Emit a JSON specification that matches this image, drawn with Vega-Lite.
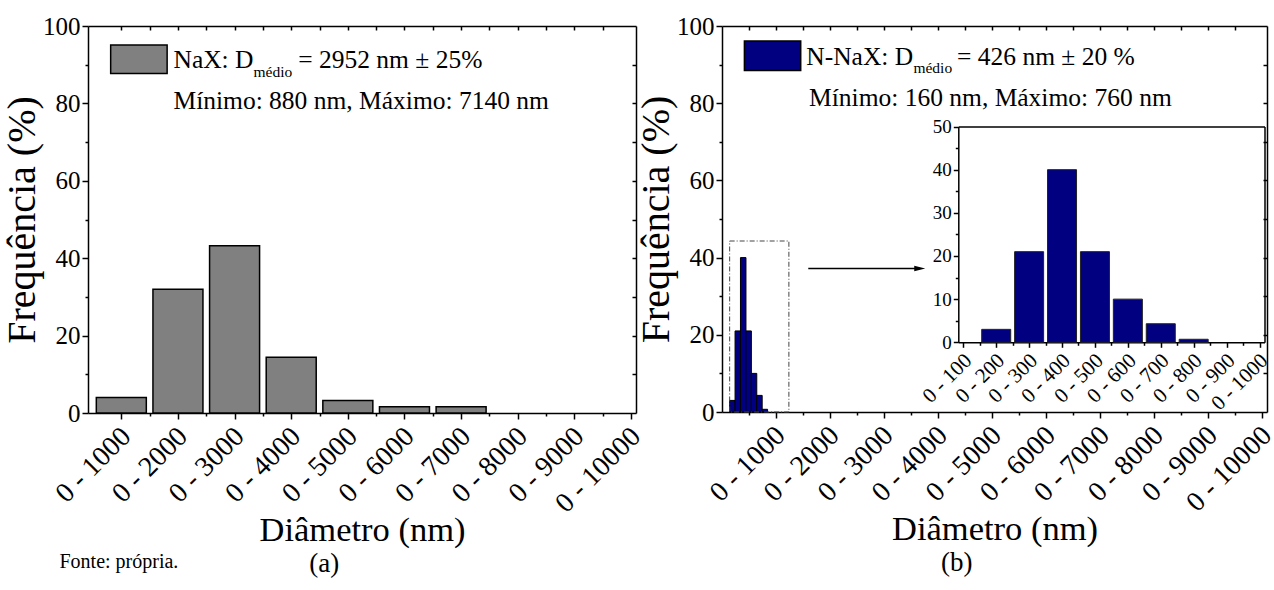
{
  "$schema": "https://vega.github.io/schema/vega-lite/v6.json",
  "background": "white",
  "padding": {"left": 2, "top": 14, "right": 0, "bottom": 0},
  "spacing": 86,
  "bounds": "flush",
  "title": {"text": "Fonte: própria.", "orient": "bottom", "anchor": "start", "frame": "bounds", "fontSize": 20, "offset": -25, "dx": 57},
  "datasets": {
    "nax": [
      {"diametro": 1000, "frequencia": 4.0},
      {"diametro": 2000, "frequencia": 32.0},
      {"diametro": 3000, "frequencia": 43.2},
      {"diametro": 4000, "frequencia": 14.4},
      {"diametro": 5000, "frequencia": 3.2},
      {"diametro": 6000, "frequencia": 1.6},
      {"diametro": 7000, "frequencia": 1.6},
      {"diametro": 8000, "frequencia": 0},
      {"diametro": 9000, "frequencia": 0},
      {"diametro": 10000, "frequencia": 0}
    ],
    "nnax": [
      {"diametro": 100, "frequencia": 0},
      {"diametro": 200, "frequencia": 3.0},
      {"diametro": 300, "frequencia": 21.0},
      {"diametro": 400, "frequencia": 40.0},
      {"diametro": 500, "frequencia": 21.0},
      {"diametro": 600, "frequencia": 10.0},
      {"diametro": 700, "frequencia": 4.3},
      {"diametro": 800, "frequencia": 0.7},
      {"diametro": 900, "frequencia": 0},
      {"diametro": 1000, "frequencia": 0}
    ],
    "legenda_a": [{"x": 812, "x2": 1809, "y": 87.7, "y2": 95.1}],
    "textos_a": [
      {"texto": "NaX: D", "x": 1921, "y": 89.1},
      {"texto": "= 2952 nm ± 25%", "x": 4123, "y": 89.1},
      {"texto": "Mínimo: 880 nm, Máximo: 7140 nm", "x": 1921, "y": 78.5}
    ],
    "sub_a": [{"texto": "médio", "x": 3334, "y": 86.8}],
    "legenda_b": [{"x": 422, "x2": 1464, "y": 88.5, "y2": 96.1}],
    "textos_b": [
      {"texto": "N-NaX: D", "x": 1567, "y": 89.9},
      {"texto": "= 426 nm ± 20 %", "x": 4356, "y": 89.9},
      {"texto": "Mínimo: 160 nm, Máximo: 760 nm", "x": 1618, "y": 79.4}
    ],
    "sub_b": [{"texto": "médio", "x": 3549, "y": 87.9}],
    "caixa_b": [{"x": 149, "x2": 1245, "y": 0, "y2": 44.3}],
    "seta_b": [{"x": 1604, "x2": 3667, "y": 37.2}]
  },
  "hconcat": [
    {
      "width": 548,
      "height": 387,
      "title": {"text": "(a)", "orient": "bottom", "anchor": "middle", "frame": "bounds", "fontSize": 27, "offset": 4},
      "layer": [
        {
          "data": {"name": "nax"},
          "transform": [{"filter": "datum.frequencia > 0"}],
          "mark": {"type": "bar", "width": 50, "fill": "#808080", "stroke": "black", "strokeWidth": 1.5},
          "encoding": {
            "x": {"field": "diametro", "type": "quantitative", "scale": {"domain": [500, 10000], "nice": false, "zero": false},
              "axis": {"orient": "bottom", "values": [1000, 2000, 3000, 4000, 5000, 6000, 7000, 8000, 9000, 10000], "labelExpr": "'0 - ' + datum.value", "labelAngle": -45, "labelFontSize": 28, "labelPadding": 3, "labelOffset": -5, "tickSize": 6, "title": "Diâmetro (nm)", "titleFontSize": 34.5, "titlePadding": -4}},
            "y": {"field": "frequencia", "type": "quantitative", "scale": {"domain": [0, 100], "nice": false},
              "axis": {"orient": "left", "values": [0, 20, 40, 60, 80, 100], "labelFontSize": 25, "labelPadding": 2, "tickSize": 6, "title": "Frequência (%)", "titleFontSize": 40, "titlePadding": 0}}
          }
        },
        {
          "data": {"name": "nax"},
          "mark": {"type": "point", "opacity": 0},
          "encoding": {
            "x": {"field": "diametro", "type": "quantitative", "scale": {"domain": [500, 10000], "nice": false, "zero": false},
              "axis": {"orient": "bottom", "values": [1500, 2500, 3500, 4500, 5500, 6500, 7500, 8500, 9500], "labels": false, "domain": false, "tickSize": 3, "title": null}},
            "y": {"field": "frequencia", "type": "quantitative", "scale": {"domain": [0, 100], "nice": false},
              "axis": {"orient": "left", "values": [10, 30, 50, 70, 90], "labels": false, "domain": false, "tickSize": 3, "title": null}}
          }
        },
        {
          "data": {"name": "nax"},
          "mark": {"type": "point", "opacity": 0},
          "encoding": {
            "x": {"field": "diametro", "type": "quantitative", "scale": {"domain": [500, 10000], "nice": false, "zero": false},
              "axis": {"orient": "top", "values": [1000, 1500, 2000, 2500, 3000, 3500, 4000, 4500, 5000, 5500, 6000, 6500, 7000, 7500, 8000, 8500, 9000, 9500], "labels": false, "domain": true, "tickSize": -4, "title": null}},
            "y": {"field": "frequencia", "type": "quantitative", "scale": {"domain": [0, 100], "nice": false},
              "axis": {"orient": "right", "values": [10, 20, 30, 40, 50, 60, 70, 80, 90], "labels": false, "domain": true, "tickSize": -4, "title": null}}
          }
        },
        {
          "data": {"name": "legenda_a"},
          "mark": {"type": "rect", "fill": "#808080", "stroke": "black", "strokeWidth": 1.5},
          "encoding": {
            "x": {"field": "x", "type": "quantitative", "scale": {"domain": [500, 10000], "nice": false, "zero": false}, "axis": null},
            "x2": {"field": "x2"},
            "y": {"field": "y", "type": "quantitative", "scale": {"domain": [0, 100], "nice": false}, "axis": null},
            "y2": {"field": "y2"}
          }
        },
        {
          "data": {"name": "textos_a"},
          "mark": {"type": "text", "align": "left", "baseline": "alphabetic", "fontSize": 25.5, "color": "black"},
          "encoding": {
            "x": {"field": "x", "type": "quantitative", "scale": {"domain": [500, 10000], "nice": false, "zero": false}, "axis": null},
            "y": {"field": "y", "type": "quantitative", "scale": {"domain": [0, 100], "nice": false}, "axis": null},
            "text": {"field": "texto"}
          }
        },
        {
          "data": {"name": "sub_a"},
          "mark": {"type": "text", "align": "left", "baseline": "alphabetic", "fontSize": 15.5, "color": "black"},
          "encoding": {
            "x": {"field": "x", "type": "quantitative", "scale": {"domain": [500, 10000], "nice": false, "zero": false}, "axis": null},
            "y": {"field": "y", "type": "quantitative", "scale": {"domain": [0, 100], "nice": false}, "axis": null},
            "text": {"field": "texto"}
          }
        }
      ],
      "resolve": {"axis": {"x": "independent", "y": "independent"}}
    },
    {
      "width": 545,
      "height": 386,
      "title": {"text": "(b)", "orient": "bottom", "anchor": "middle", "frame": "bounds", "fontSize": 27, "offset": 4},
      "layer": [
        {
          "layer": [
            {
              "data": {"name": "nnax"},
              "transform": [{"filter": "datum.frequencia > 0"}],
              "mark": {"type": "bar", "width": 5.5, "fill": "#000080", "stroke": "black", "strokeWidth": 1},
              "encoding": {
                "x": {"field": "diametro", "type": "quantitative", "scale": {"domain": [100, 10000], "nice": false, "zero": false},
                  "axis": {"orient": "bottom", "values": [1000, 2000, 3000, 4000, 5000, 6000, 7000, 8000, 9000, 10000], "labelExpr": "'0 - ' + datum.value", "labelAngle": -45, "labelFontSize": 28, "labelPadding": 3, "labelOffset": -5, "tickSize": 6, "title": "Diâmetro (nm)", "titleFontSize": 34.5, "titlePadding": -4}},
                "y": {"field": "frequencia", "type": "quantitative", "scale": {"domain": [0, 100], "nice": false},
                  "axis": {"orient": "left", "values": [0, 20, 40, 60, 80, 100], "labelFontSize": 25, "labelPadding": 2, "tickSize": 6, "title": "Frequência (%)", "titleFontSize": 40, "titlePadding": 0}}
              }
            },
            {
              "data": {"name": "nnax"},
              "mark": {"type": "point", "opacity": 0},
              "encoding": {
                "x": {"field": "diametro", "type": "quantitative", "scale": {"domain": [100, 10000], "nice": false, "zero": false},
                  "axis": {"orient": "bottom", "values": [500, 1500, 2500, 3500, 4500, 5500, 6500, 7500, 8500, 9500], "labels": false, "domain": false, "tickSize": 3, "title": null}},
                "y": {"field": "frequencia", "type": "quantitative", "scale": {"domain": [0, 100], "nice": false},
                  "axis": {"orient": "left", "values": [10, 30, 50, 70, 90], "labels": false, "domain": false, "tickSize": 3, "title": null}}
              }
            },
            {
              "data": {"name": "nnax"},
              "mark": {"type": "point", "opacity": 0},
              "encoding": {
                "x": {"field": "diametro", "type": "quantitative", "scale": {"domain": [100, 10000], "nice": false, "zero": false},
                  "axis": {"orient": "top", "values": [500, 1000, 1500, 2000, 2500, 3000, 3500, 4000, 4500, 5000, 5500, 6000, 6500, 7000, 7500, 8000, 8500, 9000, 9500], "labels": false, "domain": true, "tickSize": -4, "title": null}},
                "y": {"field": "frequencia", "type": "quantitative", "scale": {"domain": [0, 100], "nice": false},
                  "axis": {"orient": "right", "values": [10, 20, 30, 40, 50, 60, 70, 80, 90], "labels": false, "domain": true, "tickSize": -4, "title": null}}
              }
            },
            {
              "data": {"name": "caixa_b"},
              "mark": {"type": "rect", "fill": null, "fillOpacity": 0, "stroke": "#444444", "strokeWidth": 1, "strokeDash": [5, 2, 1, 2]},
              "encoding": {
                "x": {"field": "x", "type": "quantitative", "scale": {"domain": [100, 10000], "nice": false, "zero": false}, "axis": null},
                "x2": {"field": "x2"},
                "y": {"field": "y", "type": "quantitative", "scale": {"domain": [0, 100], "nice": false}, "axis": null},
                "y2": {"field": "y2"}
              }
            },
            {
              "data": {"name": "seta_b"},
              "mark": {"type": "rule", "stroke": "black", "strokeWidth": 1.5},
              "encoding": {
                "x": {"field": "x", "type": "quantitative", "scale": {"domain": [100, 10000], "nice": false, "zero": false}, "axis": null},
                "x2": {"field": "x2"},
                "y": {"field": "y", "type": "quantitative", "scale": {"domain": [0, 100], "nice": false}, "axis": null}
              }
            },
            {
              "data": {"name": "seta_b"},
              "mark": {"type": "point", "shape": "M-1,-0.5L1,0L-1,0.5Z", "size": 121, "filled": true, "color": "black", "opacity": 1},
              "encoding": {
                "x": {"field": "x2", "type": "quantitative", "scale": {"domain": [100, 10000], "nice": false, "zero": false}, "axis": null},
                "y": {"field": "y", "type": "quantitative", "scale": {"domain": [0, 100], "nice": false}, "axis": null}
              }
            },
            {
              "data": {"name": "legenda_b"},
              "mark": {"type": "rect", "fill": "#000080", "stroke": "black", "strokeWidth": 1.5},
              "encoding": {
                "x": {"field": "x", "type": "quantitative", "scale": {"domain": [100, 10000], "nice": false, "zero": false}, "axis": null},
                "x2": {"field": "x2"},
                "y": {"field": "y", "type": "quantitative", "scale": {"domain": [0, 100], "nice": false}, "axis": null},
                "y2": {"field": "y2"}
              }
            },
            {
              "data": {"name": "textos_b"},
              "mark": {"type": "text", "align": "left", "baseline": "alphabetic", "fontSize": 25.5, "color": "black"},
              "encoding": {
                "x": {"field": "x", "type": "quantitative", "scale": {"domain": [100, 10000], "nice": false, "zero": false}, "axis": null},
                "y": {"field": "y", "type": "quantitative", "scale": {"domain": [0, 100], "nice": false}, "axis": null},
                "text": {"field": "texto"}
              }
            },
            {
              "data": {"name": "sub_b"},
              "mark": {"type": "text", "align": "left", "baseline": "alphabetic", "fontSize": 15.5, "color": "black"},
              "encoding": {
                "x": {"field": "x", "type": "quantitative", "scale": {"domain": [100, 10000], "nice": false, "zero": false}, "axis": null},
                "y": {"field": "y", "type": "quantitative", "scale": {"domain": [0, 100], "nice": false}, "axis": null},
                "text": {"field": "texto"}
              }
            }
          ],
          "resolve": {"axis": {"x": "independent", "y": "independent"}}
        },
        {
          "layer": [
            {
              "data": {"name": "nnax"},
              "transform": [{"filter": "datum.frequencia > 0"}],
              "mark": {"type": "bar", "width": 29, "fill": "#000080", "stroke": "#222222", "strokeWidth": 1},
              "encoding": {
                "x": {"field": "diametro", "type": "quantitative", "scale": {"domain": [100, 1000], "range": [236.3, 542.5], "nice": false, "zero": false},
                  "axis": {"orient": "bottom", "offset": -69.7, "values": [100, 200, 300, 400, 500, 600, 700, 800, 900, 1000], "labelExpr": "'0 - ' + datum.value", "labelAngle": -45, "labelFontSize": 21, "labelPadding": 2, "labelOffset": -3, "tickSize": 5, "title": null}},
                "y": {"field": "frequencia", "type": "quantitative", "scale": {"domain": [0, 50], "range": [316.3, 100.5], "nice": false},
                  "axis": {"orient": "left", "offset": -236.3, "values": [0, 10, 20, 30, 40, 50], "labelFontSize": 19, "labelPadding": 2, "tickSize": 5, "title": null}}
              }
            },
            {
              "data": {"name": "nnax"},
              "mark": {"type": "point", "opacity": 0},
              "encoding": {
                "x": {"field": "diametro", "type": "quantitative", "scale": {"domain": [100, 1000], "range": [236.3, 542.5], "nice": false, "zero": false},
                  "axis": {"orient": "bottom", "offset": -69.7, "values": [150, 250, 350, 450, 550, 650, 750, 850, 950], "labels": false, "domain": false, "tickSize": 3, "title": null}},
                "y": {"field": "frequencia", "type": "quantitative", "scale": {"domain": [0, 50], "range": [316.3, 100.5], "nice": false},
                  "axis": {"orient": "left", "offset": -236.3, "values": [5, 15, 25, 35, 45], "labels": false, "domain": false, "tickSize": 3, "title": null}}
              }
            },
            {
              "data": {"name": "nnax"},
              "mark": {"type": "point", "opacity": 0},
              "encoding": {
                "x": {"field": "diametro", "type": "quantitative", "scale": {"domain": [100, 1000], "range": [236.3, 542.5], "nice": false, "zero": false},
                  "axis": {"orient": "top", "offset": -100.5, "labels": false, "ticks": false, "domain": true, "title": null}},
                "y": {"field": "frequencia", "type": "quantitative", "scale": {"domain": [0, 50], "range": [316.3, 100.5], "nice": false},
                  "axis": {"orient": "right", "offset": -2.5, "labels": false, "ticks": false, "domain": true, "title": null}}
              }
            }
          ],
          "resolve": {"axis": {"x": "independent", "y": "independent"}}
        }
      ],
      "resolve": {"scale": {"x": "independent", "y": "independent"}, "axis": {"x": "independent", "y": "independent"}}
    }
  ],
  "config": {
    "font": "Liberation Serif",
    "view": {"stroke": null},
    "axis": {"labelFont": "Liberation Serif", "titleFont": "Liberation Serif", "labelColor": "black", "titleColor": "black", "domainColor": "black", "tickColor": "black", "titleFontWeight": "normal", "grid": false, "domainWidth": 1.5, "tickWidth": 1.5, "labelFlush": false, "labelOverlap": false},
    "text": {"font": "Liberation Serif"},
    "title": {"font": "Liberation Serif", "fontWeight": "normal", "color": "black"}
  }
}
